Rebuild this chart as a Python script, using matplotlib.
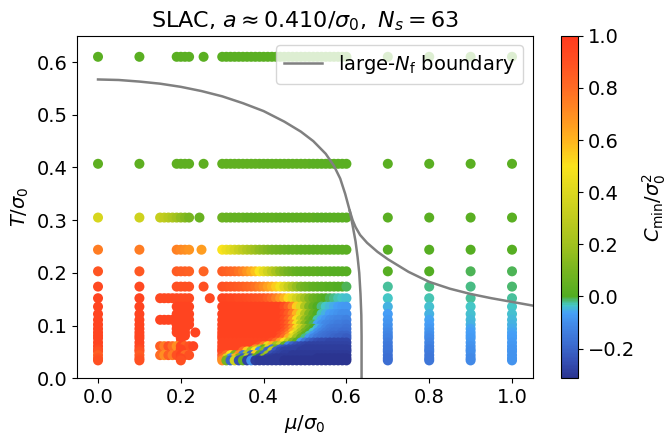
import numpy as np
import matplotlib
matplotlib.use("Agg")
import matplotlib.pyplot as plt
from matplotlib.colors import LinearSegmentedColormap, Normalize

plt.rcParams['font.size'] = 14

# ---------------- data ----------------
T_rows = [0.610, 0.407, 0.305, 0.244, 0.203, 0.174, 0.152, 0.136, 0.122, 0.111, 0.102,
          0.094, 0.087, 0.081, 0.076, 0.068, 0.061, 0.055, 0.051, 0.044, 0.038, 0.034]

# left columns mu = 0.0 and 0.1
mu_left = [0.0, 0.1]
C_left = [
    [0.02, 0.03, 0.38, 0.75, 0.88, 0.93, 0.95, 0.95, 0.95, 0.95, 0.95,
     0.95, 0.95, 0.95, 0.95, 0.95, 0.95, 0.93, 0.90, 0.85, 0.88, 0.90],
    [0.02, 0.03, 0.35, 0.75, 0.87, 0.93, 0.95, 0.95, 0.95, 0.95, 0.95,
     0.95, 0.95, 0.95, 0.95, 0.95, 0.95, 0.93, 0.90, 0.86, 0.88, 0.90],
]

# right columns mu = 0.7 .. 1.0
mu_right = [0.7, 0.8, 0.9, 1.0]
C_right = [  # one row per T_rows entry
    [0.02, 0.02, 0.02, 0.02],
    [0.02, 0.02, 0.02, 0.02],
    [0.02, 0.02, 0.02, 0.02],
    [0.01, 0.01, 0.01, 0.01],
    [0.01, 0.00, -0.01, -0.01],
    [-0.025, -0.02, -0.02, -0.015],
    [-0.035, -0.03, -0.025, -0.025],
    [-0.05, -0.04, -0.035, -0.035],
    [-0.07, -0.05, -0.04, -0.04],
    [-0.08, -0.06, -0.045, -0.045],
    [-0.09, -0.07, -0.05, -0.05],
    [-0.10, -0.08, -0.06, -0.055],
    [-0.11, -0.09, -0.065, -0.06],
    [-0.12, -0.10, -0.07, -0.065],
    [-0.13, -0.11, -0.075, -0.07],
    [-0.14, -0.12, -0.08, -0.075],
    [-0.15, -0.13, -0.09, -0.08],
    [-0.16, -0.14, -0.095, -0.085],
    [-0.16, -0.14, -0.10, -0.085],
    [-0.17, -0.15, -0.10, -0.09],
    [-0.18, -0.16, -0.11, -0.09],
    [-0.18, -0.16, -0.11, -0.09],
]

# irregular cluster around mu ~ 0.15 - 0.27
cluster_mu = [
    [0.19, 0.20, 0.21, 0.22, 0.255],
    [0.19, 0.20, 0.21, 0.22, 0.255],
    [0.15, 0.16, 0.17, 0.18, 0.19, 0.20, 0.21, 0.22, 0.245],
    [0.19, 0.20, 0.21, 0.22, 0.25],
    [0.19, 0.20, 0.21, 0.22, 0.255],
    [0.19, 0.20, 0.21, 0.22, 0.255],
    [0.15, 0.16, 0.17, 0.18, 0.19, 0.20, 0.21, 0.22, 0.27],
    [0.19, 0.20, 0.21, 0.22],
    [0.19, 0.20, 0.21, 0.22],
    [0.15, 0.16, 0.17, 0.18, 0.19, 0.20, 0.21, 0.22],
    [0.19, 0.20, 0.21, 0.22],
    [0.19, 0.20, 0.21],
    [0.19, 0.20, 0.21, 0.235],
    [0.20, 0.21],
    [0.20],
    [0.20],
    [0.15, 0.16, 0.17, 0.18, 0.19, 0.20, 0.21, 0.22, 0.23],
    [0.20],
    [0.20],
    [0.15, 0.16, 0.17, 0.18, 0.19, 0.20, 0.21, 0.22],
    [0.20],
    [0.20],
]
cluster_C = [
    [0.02, 0.02, 0.02, 0.02, 0.02],
    [0.03, 0.03, 0.03, 0.03, 0.03],
    [0.32, 0.30, 0.27, 0.24, 0.20, 0.16, 0.13, 0.10, 0.06],
    [0.74, 0.72, 0.70, 0.68, 0.66],
    [0.86, 0.85, 0.85, 0.84, 0.83],
    [0.90, 0.90, 0.90, 0.90, 0.90],
    [0.93, 0.93, 0.93, 0.93, 0.93, 0.93, 0.93, 0.93, 0.93],
    [0.95, 0.95, 0.95, 0.95],
    [0.95, 0.95, 0.95, 0.95],
    [0.95, 0.95, 0.95, 0.95, 0.95, 0.95, 0.95, 0.95],
    [0.95, 0.95, 0.95, 0.95],
    [0.95, 0.95, 0.95],
    [0.95, 0.95, 0.95, 0.95],
    [0.95, 0.95],
    [0.95],
    [0.95],
    [0.85, 0.75, 0.90, 0.80, 0.70, 0.95, 0.85, 0.90, 0.95],
    [0.95],
    [0.95],
    [0.80, 0.70, 0.85, 0.75, 0.90, 0.95, 0.80, 0.90],
    [0.93],
    [0.90],
]

# dense scan mu = 0.30 ... 0.60
mu_dense = [0.30, 0.31, 0.32, 0.33, 0.34, 0.35, 0.36, 0.37, 0.38, 0.39, 0.40,
            0.41, 0.42, 0.43, 0.44, 0.45, 0.46, 0.47, 0.48, 0.49, 0.50,
            0.51, 0.52, 0.53, 0.54, 0.55, 0.56, 0.57, 0.58, 0.59, 0.60]
C_dense = [
    [0.02] * 31,
    [0.04] * 10 + [0.03] * 12 + [0.02] * 9,
    [0.07, 0.06, 0.06, 0.05, 0.05, 0.05] + [0.04] * 8 + [0.03] * 9 + [0.02] * 8,
    [0.50, 0.46, 0.42, 0.38, 0.34, 0.30, 0.26, 0.22, 0.19, 0.16, 0.14, 0.12, 0.10, 0.09,
     0.08, 0.07, 0.06, 0.05, 0.05, 0.04, 0.04, 0.04, 0.03, 0.03, 0.03, 0.03, 0.03,
     0.02, 0.02, 0.02, 0.02],
    [0.85, 0.84, 0.82, 0.80, 0.77, 0.73, 0.68, 0.63, 0.57, 0.50, 0.43, 0.36, 0.29, 0.22,
     0.16, 0.12, 0.09, 0.07, 0.05, 0.04, 0.04, 0.03, 0.03, 0.03, 0.02, 0.02, 0.02,
     0.01, 0.01, 0.01, 0.01],
    [0.90, 0.89, 0.88, 0.87, 0.86, 0.85, 0.83, 0.81, 0.78, 0.74, 0.70, 0.65, 0.60, 0.55,
     0.48, 0.40, 0.32, 0.24, 0.17, 0.11, 0.08, 0.06, 0.04, 0.03, 0.02, 0.02, 0.01,
     0.01, 0.00, 0.00, -0.01],
    [0.95, 0.95, 0.94, 0.94, 0.93, 0.93, 0.92, 0.91, 0.90, 0.89, 0.88, 0.85, 0.80, 0.74,
     0.67, 0.60, 0.52, 0.44, 0.36, 0.28, 0.20, 0.13, 0.08, 0.05, 0.02, 0.00, -0.01,
     -0.02, -0.03, -0.035, -0.04],
    [0.96] * 15 + [0.92, 0.84, 0.72, 0.55, 0.40, 0.25, 0.12, 0.05, 0.00, -0.02, -0.035,
                   -0.045, -0.055, -0.065, -0.075, -0.08],
    [0.96] * 15 + [0.93, 0.86, 0.75, 0.60, 0.42, 0.26, 0.13, 0.05, 0.00, -0.03, -0.05,
                   -0.07, -0.08, -0.09, -0.10, -0.10],
    [0.96] * 15 + [0.92, 0.84, 0.70, 0.52, 0.33, 0.18, 0.08, 0.02, -0.03, -0.06, -0.08,
                   -0.10, -0.11, -0.12, -0.12, -0.13],
    [0.96] * 15 + [0.92, 0.84, 0.68, 0.48, 0.30, 0.15, 0.05, -0.01, -0.06, -0.09, -0.11,
                   -0.12, -0.13, -0.14, -0.14, -0.15],
    [0.96] * 15 + [0.92, 0.84, 0.70, 0.52, 0.34, 0.18, 0.07, 0.00, -0.05, -0.09, -0.12,
                   -0.14, -0.15, -0.16, -0.16, -0.17],
    [0.96] * 15 + [0.90, 0.80, 0.62, 0.42, 0.24, 0.10, 0.02, -0.04, -0.09, -0.12, -0.14,
                   -0.16, -0.17, -0.17, -0.18, -0.18],
    [0.96] * 14 + [0.92, 0.85, 0.72, 0.50, 0.30, 0.14, 0.04, -0.03, -0.08, -0.12, -0.15,
                   -0.17, -0.18, -0.19, -0.19, -0.20, -0.20],
    [0.96] * 14 + [0.90, 0.80, 0.62, 0.40, 0.20, 0.07, -0.02, -0.08, -0.12, -0.15, -0.17,
                   -0.18, -0.19, -0.20, -0.21, -0.21, -0.22],
    [0.95] * 12 + [0.90, 0.80, 0.65, 0.50, 0.30, 0.12, 0.02, -0.08, -0.15, -0.20, -0.23,
                   -0.25, -0.26, -0.26, -0.27, -0.27, -0.27, -0.27, -0.27],
    [0.95] * 9 + [0.90, 0.75, 0.45, 0.60, 0.20, 0.35, 0.05, -0.12, -0.20, -0.24, -0.26,
                  -0.27, -0.28, -0.28, -0.28, -0.28, -0.28] + [-0.28] * 5,
    [0.95] * 8 + [0.70, 0.30, 0.05, 0.40, -0.15, 0.10, -0.20, -0.24, -0.26, -0.27, -0.28,
                  -0.28] + [-0.29] * 11,
    [0.95] * 5 + [0.80, 0.55, 0.20, 0.50, -0.10, 0.15, -0.20, 0.30, -0.22, -0.26]
    + [-0.28] * 4 + [-0.29] * 12,
    [0.90, 0.80, 0.50, 0.10, 0.70, -0.15, 0.25, -0.20, 0.55, 0.05, -0.20, 0.20, -0.25]
    + [-0.27, -0.28, -0.29, -0.29] + [-0.30] * 14,
    [0.80, 0.40, -0.10, 0.60, 0.10, -0.22, 0.30, -0.25, 0.05, -0.27, 0.15, -0.28]
    + [-0.29, -0.30, -0.30] + [-0.30] * 8 + [-0.31] * 8,
    [0.70, 0.10, -0.20, 0.35, -0.25, 0.05, -0.28, -0.10, -0.29, -0.30]
    + [-0.30] * 5 + [-0.31] * 16,
]

# large-N_f phase boundary
bnd1_mu = [0.0, 0.05, 0.1, 0.15, 0.2, 0.25, 0.3, 0.35, 0.4, 0.45, 0.49, 0.52, 0.55,
           0.57, 0.585, 0.597, 0.608,
           0.615, 0.622, 0.627, 0.631, 0.634, 0.636, 0.6366, 0.6366]
bnd1_T = [0.567, 0.566, 0.563, 0.559, 0.553, 0.545, 0.535, 0.522, 0.507, 0.487, 0.468,
          0.450, 0.426, 0.403, 0.379, 0.350, 0.318,
          0.290, 0.260, 0.230, 0.200, 0.160, 0.120, 0.080, 0.0]
bnd2_mu = [0.608, 0.615, 0.622, 0.633, 0.65, 0.675, 0.70, 0.75, 0.80, 0.85, 0.90,
           0.95, 1.0, 1.05, 1.10]
bnd2_T = [0.318, 0.300, 0.287, 0.272, 0.257, 0.240, 0.226, 0.202, 0.183, 0.170, 0.160,
          0.152, 0.145, 0.138, 0.132]

c_min, c_max = -0.314, 1.0

# ---------------- colormap ----------------
nodes = [(-0.314, '#2b3490'), (-0.25, '#3550b5'), (-0.18, '#3c6ed2'), (-0.11, '#428ae8'),
         (-0.065, '#45a0f8'), (-0.035, '#45c8c5'), (-0.012, '#4cb560'), (0.0, '#52ad22'),
         (0.1, '#78b520'), (0.2, '#a2c21e'), (0.3, '#c0cc1e'), (0.4, '#dcd81e'),
         (0.5, '#fae31c'), (0.6, '#ffb41e'), (0.7, '#ff8e22'), (0.8, '#ff6c24'),
         (0.9, '#ff5022'), (1.0, '#ff3a1e')]
cmap = LinearSegmentedColormap.from_list(
    'cmin', [((v - c_min) / (c_max - c_min), c) for v, c in nodes])
norm = Normalize(vmin=c_min, vmax=c_max)

# ---------------- assemble points ----------------
xs, ys, cs = [], [], []
for i, T in enumerate(T_rows):
    for j, m in enumerate(mu_left):
        xs.append(m); ys.append(T); cs.append(C_left[j][i])
    for m, c in zip(cluster_mu[i], cluster_C[i]):
        xs.append(m); ys.append(T); cs.append(c)
    for m, c in zip(mu_dense, C_dense[i]):
        xs.append(m); ys.append(T); cs.append(c)
    for m, c in zip(mu_right, C_right[i]):
        xs.append(m); ys.append(T); cs.append(c)

# ---------------- figure ----------------
fig = plt.figure(figsize=(6.7, 4.34), dpi=100)
ax = fig.add_axes([0.1154, 0.1283, 0.6797, 0.7894])
cax = fig.add_axes([0.8373, 0.1283, 0.0254, 0.7894])

sc = ax.scatter(xs, ys, c=cs, cmap=cmap, norm=norm, s=52, edgecolors='none')
ax.plot(bnd1_mu, bnd1_T, color='gray', lw=1.8, label=r'large-$N_\mathrm{f}$ boundary')
ax.plot(bnd2_mu, bnd2_T, color='gray', lw=1.8)

ax.set_xlim(-0.05, 1.05)
ax.set_ylim(0.0, 0.65)
ax.set_xticks([0.0, 0.2, 0.4, 0.6, 0.8, 1.0])
ax.set_yticks([0.0, 0.1, 0.2, 0.3, 0.4, 0.5, 0.6])
ax.set_xlabel(r'$\mu/\sigma_0$')
ax.set_ylabel(r'$T/\sigma_0$')
ax.set_title(r'SLAC, $a \approx 0.410/\sigma_0,\ N_s = 63$', fontsize=16)
ax.legend(loc='upper right')

cb = fig.colorbar(sc, cax=cax)
cb.set_label(r'$C_\mathrm{min}/\sigma_0^2$')

fig.savefig('out.png', dpi=100)
